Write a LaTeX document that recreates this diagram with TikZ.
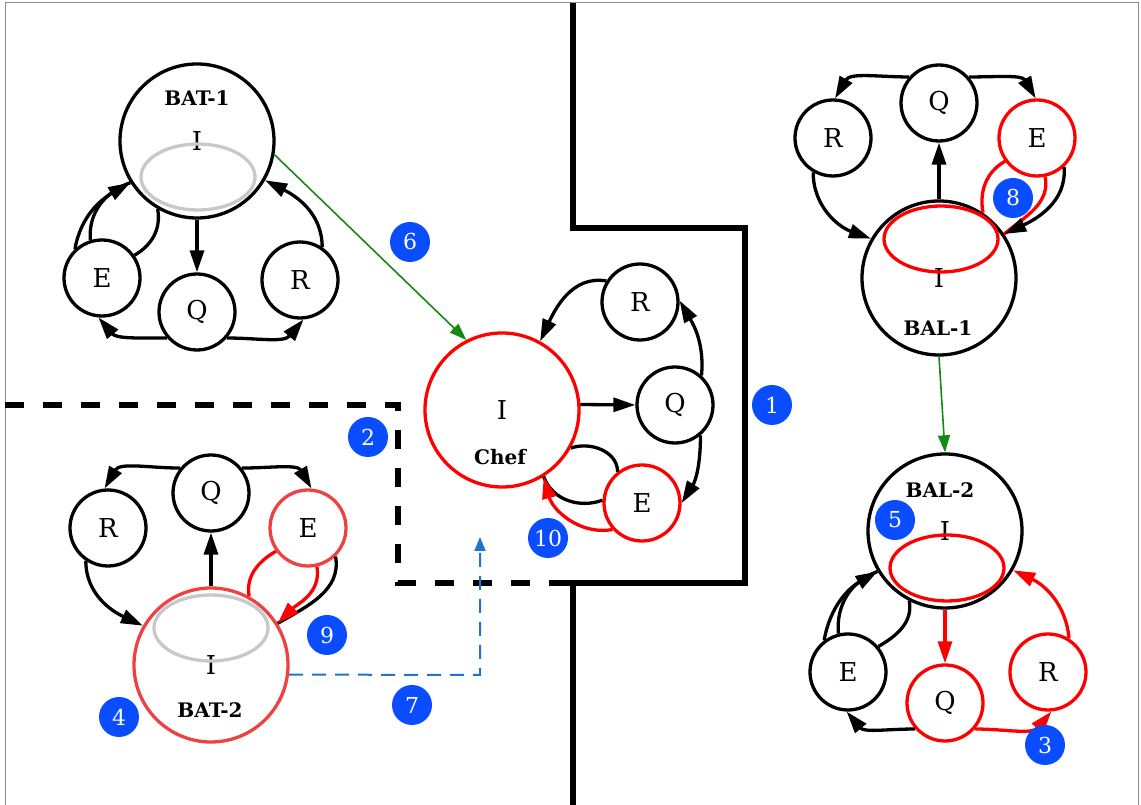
\documentclass[tikz,border=0pt]{standalone}
\usepackage{fontspec}
\setmainfont{DejaVu Serif}
\usepackage{xcolor}
\usetikzlibrary{arrows.meta,shapes.geometric}
\definecolor{rouge}{HTML}{FF0000}
\definecolor{rougeclair}{HTML}{EE4242}
\definecolor{gris}{HTML}{C8C8C8}
\definecolor{vert}{HTML}{138A13}
\definecolor{bleu}{HTML}{0A4CFF}
\definecolor{bleutrait}{HTML}{1F74D0}
\definecolor{cadre}{HTML}{8C8C8C}
\newcommand\policeetat{\fontsize{26}{29}\selectfont}
\newcommand\policenom{\bfseries\fontsize{20}{23}\selectfont}
\newcommand\policepastille{\fontsize{22}{25}\selectfont}
\tikzset{
  etat/.style={circle, draw, line width=3.3pt, minimum size=76pt, inner sep=0pt, font=\policeetat},
  gros/.style={circle, draw, line width=3.3pt, minimum size=154pt, inner sep=0pt, font=\policeetat},
  anneau/.style={ellipse, draw, line width=3.3pt, minimum width=114pt, minimum height=66pt, inner sep=0pt},
  nom/.style={font=\policenom, inner sep=0pt},
  pastille/.style={circle, fill=bleu, text=white, minimum size=40pt, inner sep=0pt, font=\policepastille},
  fleche/.style={-{Triangle[length=22pt,width=14pt]}, line width=3.3pt},
  trait/.style={line width=3.3pt},
  mur/.style={line width=6pt},
  murtirets/.style={line width=6pt, dash pattern=on 19pt off 19pt},
  transfert/.style={vert, line width=1.6pt, -{Triangle[length=17pt,width=12pt]}},
  envoi/.style={bleutrait, line width=2pt, dash pattern=on 14pt off 9pt, -{Triangle[length=14pt,width=11pt]}}
}

\begin{document}
\begin{tikzpicture}[x=1pt, y=1pt]
  \useasboundingbox (0,0) rectangle (1141,805);
  % cadre
  \draw[cadre, line width=1pt] (5,0) -- (5,802) -- (1138,802) -- (1138,0);
  % murs
  \draw[mur] (573,802) -- (573,577) -- (745,577) -- (745,222) -- (557,222);
  \draw[mur] (573,222) -- (573,0);
  \draw[murtirets] (5,400) -- (398,400) -- (398,222) -- (573,222);

  % BAT-1
  \node[gros] (b1I) at (197,664) {I};
  \node[anneau, draw=gris] (b1anneau) at (198,628) {};
  \node[nom] (b1nom) at (197,707) {BAT-1};
  \node[etat] (b1E) at (102,527) {E};
  \node[etat] (b1Q) at (197,493) {Q};
  \node[etat] (b1R) at (300,525) {R};
  \draw[fleche] (b1I.south) -- (b1Q.north);
  \draw[fleche] (b1Q.221) to[out=180, in=-50] (b1E.265);
  \draw[fleche] (b1Q.319) to[out=0, in=-130] (b1R.275);
  \draw[fleche] (b1R.56) to[out=90, in=-27] (b1I.330);
  \draw[fleche] (b1E.133) to[out=80, in=210] (b1I.212);
  \draw[trait] (b1E.107) to[out=95, in=200] (b1I.212);
  \draw[trait] (b1I.240) to[out=-80, in=30] (b1E.35);

  % BAT-2
  \node[gros, draw=rougeclair] (b2I) at (211,140) {I};
  \node[anneau, draw=gris] (b2anneau) at (211,177) {};
  \node[nom] (b2nom) at (210,95) {BAT-2};
  \node[etat] (b2Q) at (211,312) {Q};
  \node[etat] (b2R) at (108,277) {R};
  \node[etat, draw=rougeclair] (b2E) at (308,277) {E};
  \draw[fleche] (b2I.north) -- (b2Q.south);
  \draw[fleche] (b2Q.141) to[out=180, in=60] (b2R.95);
  \draw[fleche] (b2Q.39) to[out=0, in=120] (b2E.85);
  \draw[fleche] (b2R.236) to[out=-90, in=155] (b2I.150);
  \draw[trait] (b2E.314) to[out=-80, in=30] (b2I.32);
  \draw[trait, rouge] (b2I.61) to[out=100, in=210] (b2E.216);
  \draw[fleche, rouge] (b2E.283) to[out=-80, in=45] (b2I.32);

  % BAL-1
  \node[gros] (a1I) at (939,527) {I};
  \node[anneau, draw=rouge] (a1anneau) at (941,566) {};
  \node[nom] (a1nom) at (938,477) {BAL-1};
  \node[etat] (a1R) at (833,667) {R};
  \node[etat] (a1Q) at (939,702) {Q};
  \node[etat, draw=rouge] (a1E) at (1037,667) {E};
  \draw[fleche] (a1I.north) -- (a1Q.south);
  \draw[fleche] (a1Q.139) to[out=180, in=60] (a1R.87);
  \draw[fleche] (a1Q.41) to[out=0, in=120] (a1E.92);
  \draw[fleche] (a1R.240) to[out=-90, in=160] (a1I.150);
  \draw[trait, rouge] (a1I.56) to[out=100, in=210] (a1E.216);
  \draw[trait, rouge] (a1E.282) to[out=-80, in=40] (a1I.34);
  \draw[fleche] (a1E.313) to[out=-85, in=25] (a1I.34);

  % BAL-2
  \node[gros] (a2I) at (945,274) {I};
  \node[anneau, draw=rouge] (a2anneau) at (947,237) {};
  \node[nom] (a2nom) at (940,315) {BAL-2};
  \node[etat] (a2E) at (848,133) {E};
  \node[etat, draw=rouge] (a2Q) at (945,102) {Q};
  \node[etat, draw=rouge] (a2R) at (1048,133) {R};
  \draw[fleche, rouge] (a2I.south) -- (a2Q.north);
  \draw[fleche] (a2Q.221) to[out=180, in=-50] (a2E.268);
  \draw[fleche, rouge] (a2Q.319) to[out=0, in=-130] (a2R.275);
  \draw[fleche, rouge] (a2R.58) to[out=95, in=-25] (a2I.330);
  \draw[fleche] (a2E.127) to[out=80, in=210] (a2I.211);
  \draw[trait] (a2E.104) to[out=95, in=200] (a2I.211);
  \draw[trait] (a2I.243) to[out=-80, in=30] (a2E.40);

  % Chef
  \node[gros, draw=rouge] (cI) at (502,395) {I};
  \node[nom] (cnom) at (500,348) {Chef};
  \node[etat] (cR) at (640,503) {R};
  \node[etat] (cQ) at (675,400) {Q};
  \node[etat, draw=rouge] (cE) at (642,302) {E};
  \draw[fleche] (cI.4) -- (cQ.west);
  \draw[fleche] (cR.148) to[out=170, in=65] (cI.61);
  \draw[fleche] (cQ.48) to[out=85, in=-60] (cR.2);
  \draw[fleche] (cQ.310) to[out=-90, in=58] (cE.0);
  \draw[trait] (cI.331) to[out=20, in=90] (cE.128);
  \draw[trait] (cE.176) to[out=200, in=-70] (cI.302);
  \draw[fleche, rouge] (cE.222) to[out=190, in=-75] (cI.302);

  % transferts
  \draw[transfert] (b1I.-10) -- (cI.117);
  \draw[transfert] (a1I.south) -- (a2I.north);
  \coordinate (coin) at (480,130);
  \coordinate (cible) at (480,268);
  \draw[envoi] (b2I.-7) -- (coin) -- (cible);

  % pastilles
  \foreach \n/\x/\y in {1/772/400, 2/368/368, 3/1045/60, 4/119/88, 5/895/285,
                        6/410/563, 7/412/100, 8/1013/607, 9/327/170, 10/548/267}
    \node[pastille] (p\n) at (\x,\y) {\n};
\end{tikzpicture}
\end{document}
